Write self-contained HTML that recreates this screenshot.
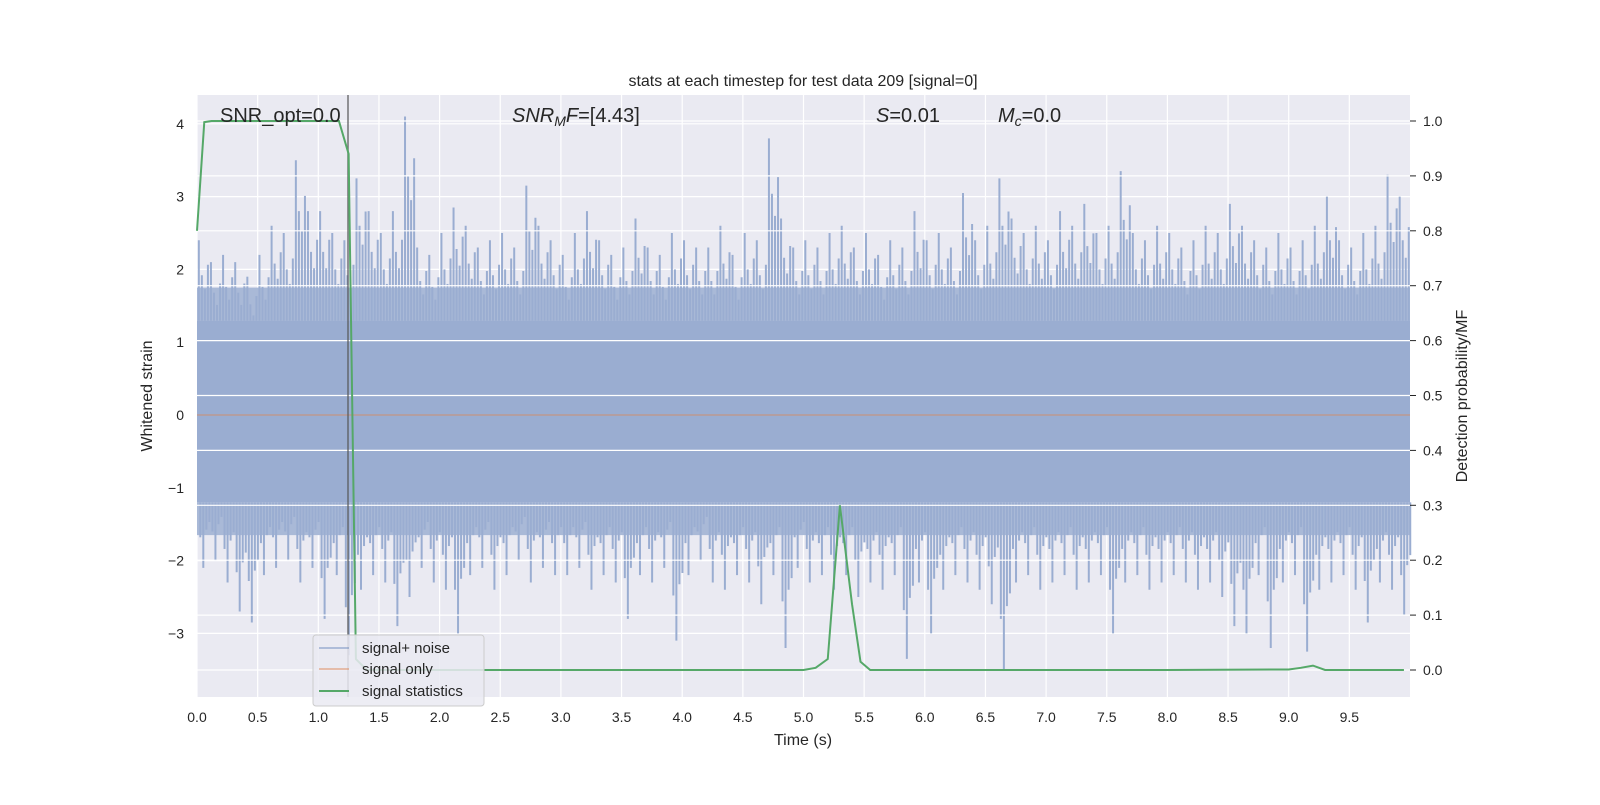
<!DOCTYPE html>
<html><head><meta charset="utf-8"><style>
body{margin:0;background:#fff;}
svg text{font-family:"Liberation Sans","DejaVu Sans",sans-serif;fill:#262626;}
</style></head><body>
<svg id="chart" width="1600" height="800" xmlns="http://www.w3.org/2000/svg">
<rect x="197" y="95" width="1213" height="602" fill="#eaeaf2"/>
<g id="grid"></g>
<g id="noise"></g>
<line x1="197" x2="1410" y1="415" y2="415" stroke="#dd8452" stroke-opacity="0.6" stroke-width="1.2"/>
<g id="grid2"></g>
<line x1="348" x2="348" y1="95" y2="697" stroke="#555" stroke-width="1.5" opacity="0.8"/>
<g id="stats"></g>
<g id="axes"></g>
<text x="803" y="86" font-size="16" text-anchor="middle">stats at each timestep for test data 209 [signal=0]</text>
<text x="220" y="122" font-size="20">SNR_opt=0.0</text>
<text x="512" y="122" font-size="20"><tspan font-style="italic">SNR</tspan><tspan font-style="italic" font-size="14" dy="4">M</tspan><tspan font-style="italic" dy="-4">F</tspan>=[4.43]</text>
<text x="876" y="122" font-size="20"><tspan font-style="italic">S</tspan>=0.01</text>
<text x="998" y="122" font-size="20"><tspan font-style="italic">M</tspan><tspan font-style="italic" font-size="14" dy="4">c</tspan><tspan dy="-4">=0.0</tspan></text>
<text x="803" y="745" font-size="16" text-anchor="middle">Time (s)</text>
<text transform="translate(152,396) rotate(-90)" font-size="16" text-anchor="middle">Whitened strain</text>
<text transform="translate(1467,396) rotate(-90)" font-size="16" text-anchor="middle">Detection probability/MF</text>
<g>
<rect x="313" y="635" width="171" height="71" rx="3" fill="#eaeaf2" fill-opacity="0.85" stroke="#cccccc"/>
<line x1="319" x2="349" y1="648" y2="648" stroke="#4c72b0" stroke-opacity="0.5" stroke-width="1.5"/>
<text x="362" y="653" font-size="15">signal+ noise</text>
<line x1="319" x2="349" y1="669" y2="669" stroke="#dd8452" stroke-opacity="0.6" stroke-width="1.5"/>
<text x="362" y="674" font-size="15">signal only</text>
<line x1="319" x2="349" y1="691" y2="691" stroke="#55a868" stroke-width="2"/>
<text x="362" y="696" font-size="15">signal statistics</text>
</g>
</svg>
<script>
const xTicks=[0,0.5,1,1.5,2,2.5,3,3.5,4,4.5,5,5.5,6,6.5,7,7.5,8,8.5,9,9.5];
const yTicksLeft=[-3,-2,-1,0,1,2,3,4];
const yTicksRight=[0,0.1,0.2,0.3,0.4,0.5,0.6,0.7,0.8,0.9,1.0];
const noiseHi=[2.4,2.1,2.2,2.1,1.9,2.2,2.6,2.5,3.5,2.8,2.8,2.5,2.4,3.25,2.8,2.5,2.8,4.1,2.3,2.2,2.5,2.85,2.6,2.3,2.4,2.5,2.3,3.15,2.6,2.4,2.2,2.5,2.8,2.4,2.2,2.3,2.7,2.3,2.2,2.5,2.4,2.3,2.3,2.6,2.2,2.5,2.4,3.8,2.7,2.3,2.4,2.3,2.5,2.6,2.3,2.5,2.2,2.4,2.3,2.8,2.4,2.5,2.3,3.05,2.4,2.6,3.25,2.7,2.5,2.6,2.4,2.8,2.6,2.9,2.5,2.6,3.35,2.5,2.4,2.6,2.5,2.3,2.4,2.6,2.5,2.9,2.6,2.4,2.3,2.5,2.3,2.4,2.6,3.0,2.4,2.3,2.5,2.6,3.3,3.0];
const noiseLo=[-2.1,-2.0,-2.3,-2.7,-2.85,-2.2,-2.1,-2.0,-2.3,-2.1,-2.8,-2.2,-3.3,-2.4,-2.2,-2.3,-2.9,-2.5,-2.1,-2.3,-2.4,-3.0,-2.2,-2.1,-2.4,-2.2,-2.0,-2.3,-2.1,-2.2,-2.2,-2.1,-2.4,-2.2,-2.3,-2.8,-2.2,-2.3,-2.1,-3.1,-2.2,-2.0,-2.3,-2.4,-2.2,-2.3,-2.6,-2.2,-3.2,-2.1,-2.3,-2.2,-2.4,-2.2,-2.5,-2.3,-2.4,-2.2,-3.35,-2.3,-3.0,-2.4,-2.2,-2.3,-2.4,-2.6,-3.5,-2.3,-2.2,-2.4,-2.3,-2.2,-2.4,-2.3,-2.2,-3.0,-2.3,-2.2,-2.4,-2.3,-2.2,-2.3,-2.4,-2.3,-2.5,-2.9,-3.0,-2.2,-3.2,-2.3,-2.2,-3.25,-2.4,-2.3,-2.2,-2.4,-2.85,-2.3,-2.4,-2.75];
const statT=[0,0.06,0.12,0.5,1.0,1.17,1.25,1.31,1.4,2.0,3.0,4.0,5.0,5.1,5.2,5.3,5.4,5.47,5.55,6.0,7.0,8.0,9.0,9.1,9.2,9.3,9.95];
const statP=[0.8,0.998,1.0,1.0,1.0,1.0,0.94,0.02,0.0,0.0,0.0,0.0,0.0,0.004,0.02,0.3,0.12,0.015,0.0,0.0,0.0,0.0,0.001,0.004,0.008,0.0,0.0];
const NS='http://www.w3.org/2000/svg';
const X=t=>197+t*121.3;
const YL=v=>415-v*72.8;
const YR=p=>670-p*549;
function mk(tag,attrs,parent){const e=document.createElementNS(NS,tag);for(const k in attrs)e.setAttribute(k,attrs[k]);parent.appendChild(e);return e;}
const grid=document.getElementById('grid'),grid2=document.getElementById('grid2'),axes=document.getElementById('axes');
xTicks.forEach(t=>{
 const l=mk('line',{x1:X(t),x2:X(t),y1:95,y2:697,stroke:'#fff','stroke-width':1.2},grid);
 
 
 const tx=mk('text',{x:X(t),y:722,'font-size':14,'text-anchor':'middle'},axes);tx.textContent=t.toFixed(1);
 
 
});
yTicksLeft.forEach(v=>{
 const l=mk('line',{x1:197,x2:1410,y1:YL(v),y2:YL(v),stroke:'#fff','stroke-width':1.2},grid);
 
 
 const tx=mk('text',{x:184,y:YL(v)+5,'font-size':14,'text-anchor':'end'},axes);tx.textContent=(v<0?'\u2212'+(-v):v);
 
 
});
yTicksRight.forEach(p=>{
 const l=mk('line',{x1:197,x2:1410,y1:YR(p),y2:YR(p),stroke:'#fff','stroke-width':1.2},grid2);
 
 
 mk('line',{x1:1410,x2:1416,y1:YR(p),y2:YR(p),stroke:'#262626','stroke-width':1},axes);
 const tx=mk('text',{x:1423,y:YR(p)+5,'font-size':14},axes);tx.textContent=p.toFixed(1);
 
 
});
const noise=document.getElementById('noise');
const core=mk('rect',{x:197,y:YL(1.3),width:1213,height:YL(-1.2)-YL(1.3),fill:'#9aadd1'},noise);


const fuzz=mk('rect',{x:197,y:YL(1.75),width:1213,height:YL(1.3)-YL(1.75),fill:'#a9b9d7'},noise);


const fuzz2=mk('rect',{x:197,y:YL(-1.2),width:1213,height:YL(-1.65)-YL(-1.2),fill:'#a9b9d7'},noise);


const offs=[[0.015,1.0,0.8],[0.04,0.8,1.0],[0.065,0.72,0.75],[0.09,0.86,0.7]];
noiseHi.forEach((h,i)=>{
 const t=i*0.1;
 offs.forEach(o=>{
  const a=mk('line',{x1:X(t+o[0]),x2:X(t+o[0]),y1:YL(1.3),y2:YL(h*o[1]),stroke:'#9aadd1','stroke-width':2},noise);
  
  
  const b=mk('line',{x1:X(t+o[0]+0.012),x2:X(t+o[0]+0.012),y1:YL(-1.2),y2:YL(noiseLo[i]*o[2]),stroke:'#9aadd1','stroke-width':2},noise);
  
  
 });
});
const st=document.getElementById('stats');
const pl=mk('polyline',{points:statT.map((t,i)=>X(t)+','+YR(statP[i])).join(' '),fill:'none',stroke:'#55a868','stroke-width':2},st);


</script>
</body></html>
